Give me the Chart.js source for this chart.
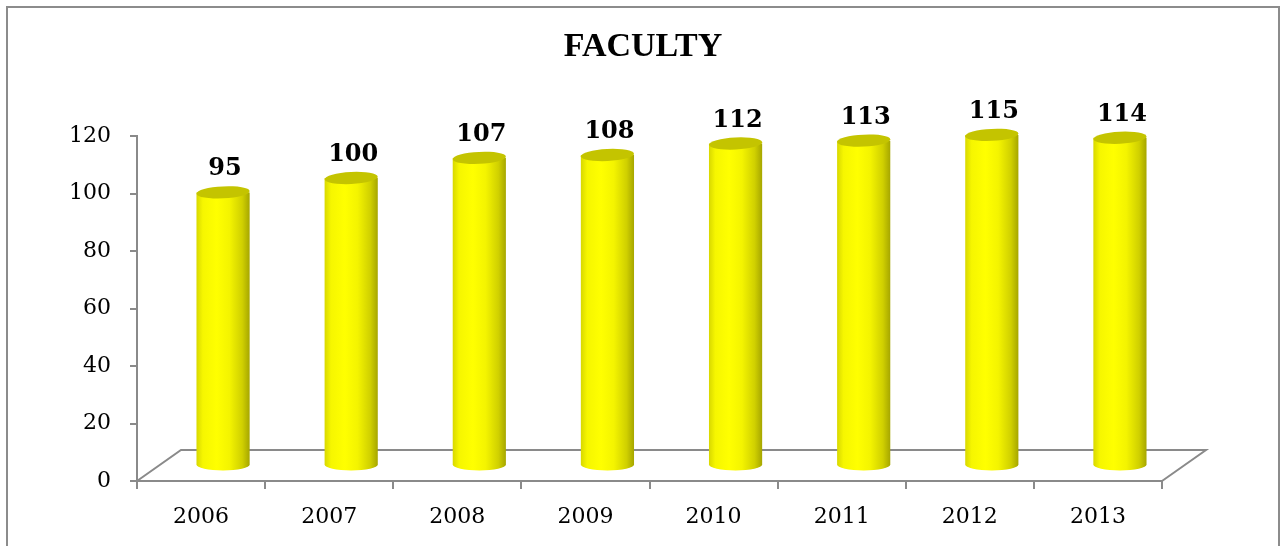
<!DOCTYPE html>
<html>
<head>
<meta charset="utf-8">
<script src="https://cdn.jsdelivr.net/npm/chart.js@4/dist/chart.umd.min.js"></script>
<style>
  html, body { margin: 0; padding: 0; background: #fff; overflow: hidden; }
  #frame { position: absolute; left: 6px; top: 6px; width: 1270px; height: 560px; border: 2px solid #8c8c8c; pointer-events: none; }
  canvas { position: absolute; left: 0; top: 0; }
</style>
</head>
<body>
<canvas id="facultyChart" width="1281" height="546"></canvas>
<div id="frame"></div>
<script>
// data
const years = ['2006', '2007', '2008', '2009', '2010', '2011', '2012', '2013'];
const faculty = [95, 100, 107, 108, 112, 113, 115, 114];
const yTicks = [0, 20, 40, 60, 80, 100, 120];
const chartTitle = 'FACULTY';

const AXIS_GREY = '#8a8a8a';
const DEPTH_X = 44, DEPTH_Y = 31; // 3d floor depth

// title is centred on the whole frame, not on the plot, so draw it here
const titlePlugin = {
    id: 'frameTitle',
    afterDraw(chart) {
        const { ctx } = chart;
        ctx.save();
        ctx.fillStyle = '#000';
        ctx.font = 'bold 34px "Liberation Serif"';
        ctx.textAlign = 'center';
        ctx.textBaseline = 'middle';
        ctx.fillText(chartTitle, 643, 47);
        ctx.restore();
    }
};

// floor of the fake 3d plot
const floorPlugin = {
    id: 'floor3d',
    beforeDatasetsDraw(chart) {
        const { ctx, chartArea } = chart;
        const { left, right, bottom } = chartArea;
        ctx.save();
        ctx.strokeStyle = AXIS_GREY;
        ctx.lineWidth = 2;
        ctx.beginPath();
        ctx.moveTo(left, bottom);
        ctx.lineTo(left + DEPTH_X, bottom - DEPTH_Y);
        ctx.lineTo(right + DEPTH_X, bottom - DEPTH_Y);
        ctx.lineTo(right, bottom);
        ctx.stroke();
        ctx.restore();
    }
};

// cylinders + value labels, placed from the bar elements
const cylinderPlugin = {
    id: 'cylinders',
    afterDatasetsDraw(chart) {
        const { ctx } = chart;
        const meta = chart.getDatasetMeta(0);
        const ry = 6;
        meta.data.forEach((bar, i) => {
            const cx = bar.x + DEPTH_X / 2;
            const rx = bar.width / 2;
            const top = bar.y - DEPTH_Y / 2;
            const base = bar.base - DEPTH_Y / 2;

            const grad = ctx.createLinearGradient(cx - rx, 0, cx + rx, 0);
            grad.addColorStop(0, '#d8d800');
            grad.addColorStop(0.12, '#f6f600');
            grad.addColorStop(0.38, '#ffff00');
            grad.addColorStop(0.62, '#f4f400');
            grad.addColorStop(0.86, '#d0d000');
            grad.addColorStop(1, '#a6a600');

            ctx.save();
            ctx.fillStyle = grad;
            ctx.beginPath();
            ctx.moveTo(cx + rx, top);
            ctx.lineTo(cx + rx, base);
            ctx.ellipse(cx, base, rx, ry, 0, 0, Math.PI, false);
            ctx.lineTo(cx - rx, top);
            ctx.closePath();
            ctx.fill();

            // top cap
            ctx.fillStyle = '#c4c400';
            ctx.beginPath();
            ctx.ellipse(cx, top, rx, ry, -0.05, 0, Math.PI * 2);
            ctx.fill();

            // value label
            ctx.fillStyle = '#000';
            ctx.font = 'bold 24px "DejaVu Serif"';
            ctx.textAlign = 'center';
            ctx.textBaseline = 'alphabetic';
            ctx.fillText(String(faculty[i]), cx + 2, top - ry - 11);
            ctx.restore();
        });
    }
};

const ctx = document.getElementById('facultyChart').getContext('2d');
new Chart(ctx, {
    type: 'bar',
    data: {
        labels: years,
        datasets: [{
            label: 'Faculty',
            data: faculty,
            backgroundColor: 'rgba(0,0,0,0)',
            borderWidth: 0,
            categoryPercentage: 1,
            barPercentage: 0.415
        }]
    },
    options: {
        responsive: false,
        animation: false,
        layout: { padding: { left: 0, right: 119, top: 136, bottom: 0 } },
        plugins: {
            legend: { display: false },
            tooltip: { enabled: false },
            title: { display: false }
        },
        scales: {
            y: {
                min: 0,
                max: 120,
                afterFit(scale) { scale.width = 137; },
                afterBuildTicks(scale) { scale.ticks = yTicks.map(v => ({ value: v })); },
                border: { color: AXIS_GREY, width: 2 },
                grid: { drawOnChartArea: false, color: AXIS_GREY, lineWidth: 2, tickLength: 7 },
                ticks: {
                    color: '#000',
                    padding: 19,
                    font: { family: '"DejaVu Serif"', size: 22 }
                }
            },
            x: {
                afterFit(scale) { scale.height = 65; },
                border: { color: AXIS_GREY, width: 2 },
                grid: { drawOnChartArea: false, color: AXIS_GREY, lineWidth: 2, tickLength: 8, offset: true },
                ticks: {
                    color: '#000',
                    padding: 15,
                    font: { family: '"DejaVu Serif"', size: 22 }
                }
            }
        }
    },
    plugins: [floorPlugin, cylinderPlugin, titlePlugin]
});
</script>
</body>
</html>
